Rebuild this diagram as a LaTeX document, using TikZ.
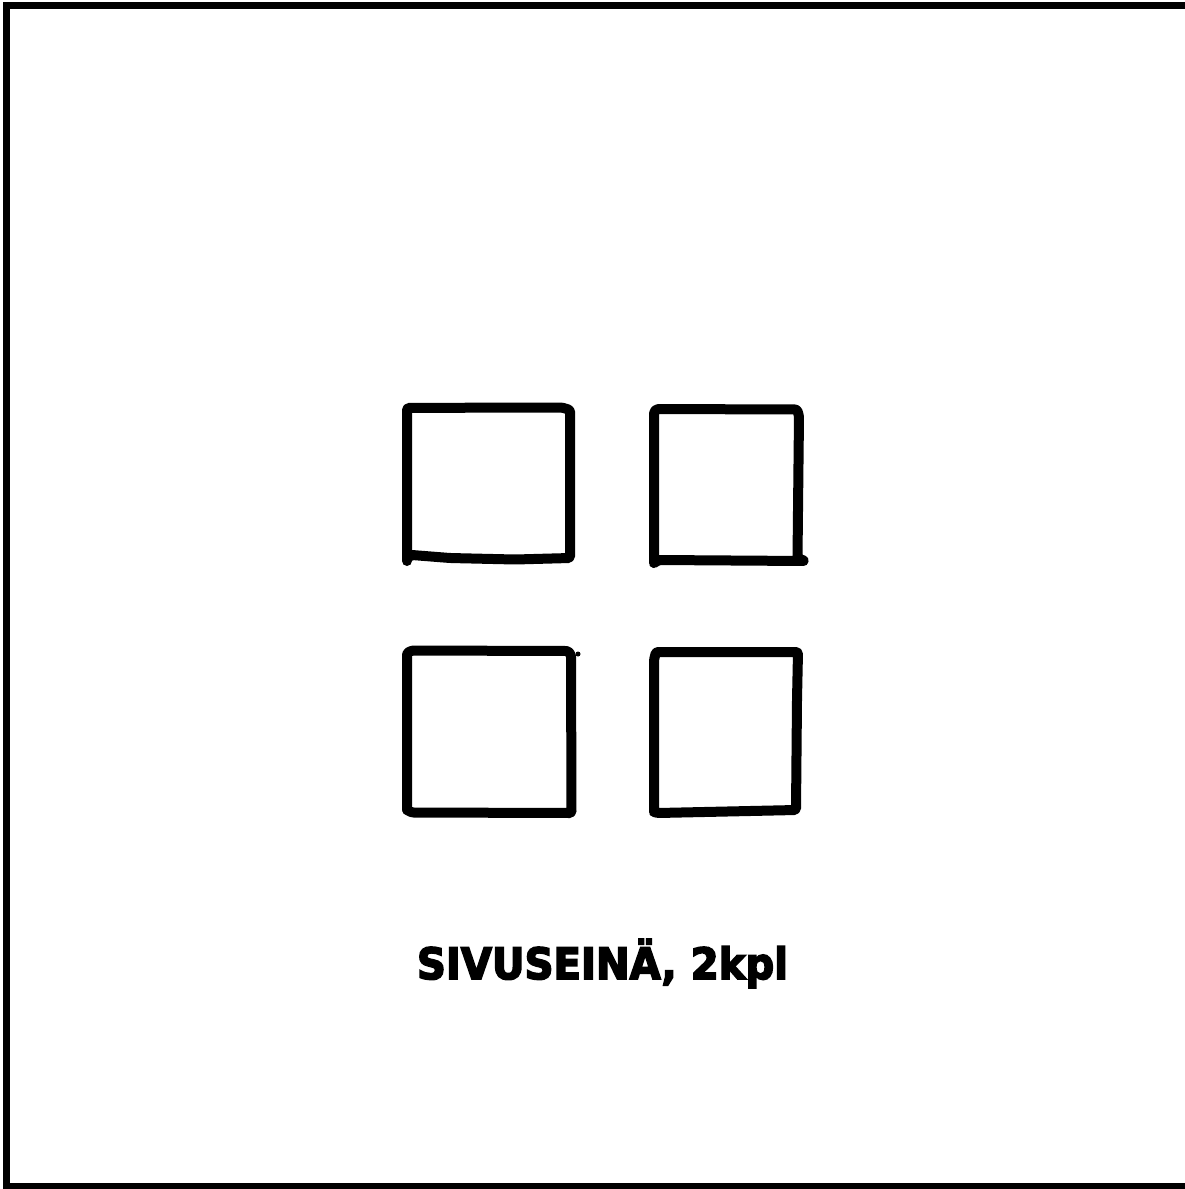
\documentclass[tikz,border=0pt]{standalone}
\usepackage{fontspec}
\usepackage{graphicx}
\setmainfont{Liberation Sans}
\newfontfamily\skfont{DejaVu Sans Bold}[FakeBold=4]
\usepackage{tikz}
\definecolor{skink}{RGB}{0,0,0}
\tikzset{
  skframe/.style={draw=skink, line width=7pt},
  sksquare/.style={draw=skink, line width=10pt, line cap=round, line join=round, rounded corners=1.5pt},
  sklabel/.style={anchor=base, inner sep=0pt, text=skink, font=\skfont}
}

\begin{document}
\begin{tikzpicture}[x=1pt,y=-1pt]
\useasboundingbox (0,0) rectangle (1184,1189);
\draw[skframe] (1195,5) -- (6,5) -- (6,1186) -- (1195,1186);
\draw[sksquare] (407,561) -- (407,408) -- (520,407.5) -- (562,407.5) -- (570,410) -- (570,558) -- (515,559.5) -- (450,558) -- (412,555) -- (407,558);
\draw[sksquare] (654,563) -- (654,412) -- (657,409) -- (797,409.5) -- (799,416) -- (797.5,558) -- (805,561) -- (659,560) -- (654,563);
\draw[sksquare] (407,810) -- (407,653) -- (412,650.5) -- (568,651) -- (571,655) -- (571.5,813) -- (412,812.5) -- (407,810);
\fill[skink] (578,654) circle (2.5pt);
\draw[sksquare] (654,812) -- (654,660) -- (656,652) -- (798,652) -- (797,700) -- (796,810) -- (658,813) -- (654,812);
\node[sklabel] (title) at (602.5,979) {\resizebox{371pt}{40pt}{SIVUSEINÄ, 2kpl}};
\end{tikzpicture}
\end{document}
